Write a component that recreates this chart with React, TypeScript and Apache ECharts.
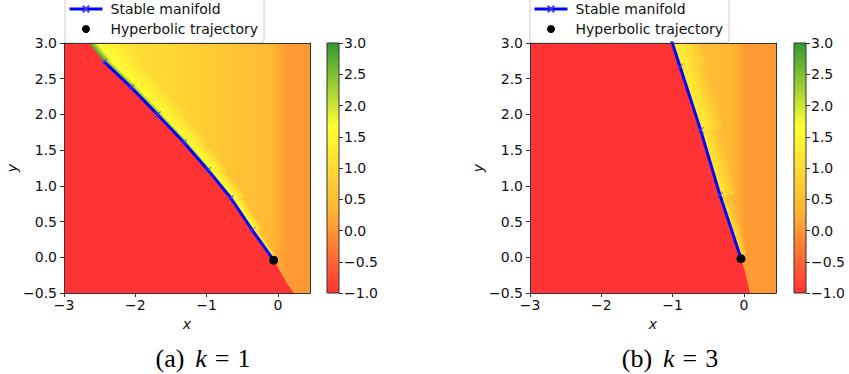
import React, { useEffect, useRef } from 'react';
import * as echarts from 'echarts';

// ---------- axes ----------
const xTickValues = [-3, -2, -1, 0];
const xMin = -3;
const xMax = 0.45;
const yMin = -0.5;
const yMax = 3;
const yStep = 0.5;
const cbMin = -1;
const cbMax = 3;
const cbStep = 0.5;

// colormap anchors (red -> orange -> yellow -> green, alpha 0.8 on white)
const cmapValues = [-1, 1 / 3, 5 / 3, 3];
const cmapColors = [
  [255, 51, 51],
  [255, 183, 51],
  [255, 255, 51],
  [51, 153, 51],
];

// ---------- panel (a) k = 1 ----------
const manifoldX1 = [-2.44, -2.06, -1.69, -1.32, -0.98, -0.66, -0.36, -0.06];
const manifoldY1 = [2.74, 2.38, 2.0, 1.61, 1.22, 0.83, 0.38, -0.04];
const hyperX1 = [-0.06];
const hyperY1 = [-0.04];
const ridgeX1 = [-2.65, -2.44, -2.06, -1.69, -1.32, -0.98, -0.66, -0.36, -0.06];
const ridgeY1 = [3.0, 2.74, 2.38, 2.0, 1.61, 1.22, 0.83, 0.38, -0.04];
const ridgePeak1 = [3.0, 3.0, 2.9, 2.7, 2.5, 2.3, 2.1, 1.8, 0.9];
const ridgeWidth1 = [0.55, 0.5, 0.45, 0.4, 0.34, 0.28, 0.22, 0.15, 0.05];
const tailX1 = [-0.02, 0.05, 0.13, 0.22];
const tailY1 = [-0.1, -0.23, -0.37, -0.5];
const fieldX1 = [-3, -2.4, -1.8, -1.2, -0.7, -0.3, -0.12, 0.0, 0.1, 0.45];
const fieldV1 = [1.5, 1.25, 1.0, 0.82, 0.6, 0.45, 0.38, 0.2, 0.06, 0.02];

// ---------- panel (b) k = 3 ----------
const manifoldX2 = [-1.19, -0.897, -0.607, -0.336, -0.04];
const manifoldY2 = [3.57, 2.67, 1.78, 0.87, -0.02];
const hyperX2 = [-0.04];
const hyperY2 = [-0.02];
const ridgeX2 = [-1.005, -0.897, -0.607, -0.336, -0.04];
const ridgeY2 = [3.0, 2.67, 1.78, 0.87, -0.02];
const ridgePeak2 = [1.3, 1.28, 1.2, 1.05, 0.75];
const ridgeWidth2 = [0.45, 0.42, 0.32, 0.22, 0.08];
const tailX2 = [0.02, 0.085];
const tailY2 = [-0.22, -0.5];
const fieldX2 = [-3, -0.9, -0.5, -0.2, -0.08, 0.03, 0.45];
const fieldV2 = [0.55, 0.52, 0.42, 0.36, 0.25, 0.05, 0.02];

const FONT = 'DejaVu Sans';
const INK = '#111';
const FRAME = '#333';

function cmap(v: number, a = 1): string {
  let i = 0;
  while (i < cmapValues.length - 2 && v > cmapValues[i + 1]) i++;
  const t = Math.max(0, Math.min(1, (v - cmapValues[i]) / (cmapValues[i + 1] - cmapValues[i])));
  const c0 = cmapColors[i];
  const c1 = cmapColors[i + 1];
  const c = c0.map((c, k) => Math.round(c + (c1[k] - c) * t));
  return `rgba(${c[0]},${c[1]},${c[2]},${a})`;
}

const minus = (s: string) => s.replace('-', '\u2212');

type Panel = {
  manifoldX: number[];
  manifoldY: number[];
  hyperX: number[];
  hyperY: number[];
  ridgeX: number[];
  ridgeY: number[];
  ridgePeak: number[];
  ridgeWidth: number[];
  tailX: number[];
  tailY: number[];
  fieldX: number[];
  fieldV: number[];
};

const panels: Panel[] = [
  {
    manifoldX: manifoldX1, manifoldY: manifoldY1, hyperX: hyperX1, hyperY: hyperY1,
    ridgeX: ridgeX1, ridgeY: ridgeY1, ridgePeak: ridgePeak1, ridgeWidth: ridgeWidth1,
    tailX: tailX1, tailY: tailY1, fieldX: fieldX1, fieldV: fieldV1,
  },
  {
    manifoldX: manifoldX2, manifoldY: manifoldY2, hyperX: hyperX2, hyperY: hyperY2,
    ridgeX: ridgeX2, ridgeY: ridgeY2, ridgePeak: ridgePeak2, ridgeWidth: ridgeWidth2,
    tailX: tailX2, tailY: tailY2, fieldX: fieldX2, fieldV: fieldV2,
  },
];

const layout = [
  { main: { left: 64, top: 43, width: 246, height: 250 }, cbar: { left: 327, top: 43, width: 12, height: 250 }, legendLeft: 65, caption: 203, tag: 'a', k: '1' },
  { main: { left: 530, top: 43, width: 246, height: 250 }, cbar: { left: 794, top: 43, width: 12, height: 250 }, legendLeft: 530, caption: 670, tag: 'b', k: '3' },
];

function buildOption() {
  const grid: any[] = [];
  const xAxis: any[] = [];
  const yAxis: any[] = [];
  const series: any[] = [];
  const legend: any[] = [];
  const graphic: any[] = [];

  const labelStyle = { fontFamily: FONT, fontSize: 14, color: INK };
  const lineOnly = {
    axisLine: { show: true, onZero: false, lineStyle: { color: FRAME, width: 1 } },
    axisTick: { show: false },
    axisLabel: { show: false },
    splitLine: { show: false },
    z: 10,
  };

  panels.forEach((p, pi) => {
    const L = layout[pi];
    const gMain = grid.length;
    grid.push({ ...L.main, containLabel: false });
    const gBar = grid.length;
    grid.push({ ...L.cbar, containLabel: false });

    const xMainIdx = xAxis.length;
    xAxis.push({
      type: 'value', gridIndex: gMain, min: xMin, max: xMax, position: 'bottom',
      axisLine: { show: true, onZero: false, lineStyle: { color: FRAME, width: 1 } },
      axisTick: { show: true, length: 4, customValues: xTickValues, lineStyle: { color: FRAME } },
      axisLabel: { ...labelStyle, margin: 5, customValues: xTickValues, formatter: (v: number) => minus(String(v)) },
      splitLine: { show: false },
      name: 'x', nameLocation: 'middle', nameGap: 22,
      nameTextStyle: { fontFamily: FONT, fontSize: 14, fontStyle: 'italic', color: INK },
      z: 10,
    });
    xAxis.push({ type: 'value', gridIndex: gMain, min: xMin, max: xMax, position: 'top', ...lineOnly });
    const xBarIdx = xAxis.length;
    xAxis.push({ type: 'value', gridIndex: gBar, min: 0, max: 1, show: false });

    const yMainIdx = yAxis.length;
    yAxis.push({
      type: 'value', gridIndex: gMain, min: yMin, max: yMax, interval: yStep, position: 'left',
      axisLine: { show: true, onZero: false, lineStyle: { color: FRAME, width: 1 } },
      axisTick: { show: true, length: 4, lineStyle: { color: FRAME } },
      axisLabel: { ...labelStyle, margin: 7, formatter: (v: number) => minus(v.toFixed(1)) },
      splitLine: { show: false },
      name: 'y', nameLocation: 'middle', nameGap: 45, nameRotate: 90,
      nameTextStyle: { fontFamily: FONT, fontSize: 14, fontStyle: 'italic', color: INK },
      z: 10,
    });
    yAxis.push({ type: 'value', gridIndex: gMain, min: yMin, max: yMax, position: 'right', ...lineOnly });
    const yBarIdx = yAxis.length;
    yAxis.push({
      type: 'value', gridIndex: gBar, min: cbMin, max: cbMax, interval: cbStep, position: 'right',
      axisLine: { show: false, onZero: false },
      axisTick: { show: true, length: 4, lineStyle: { color: FRAME } },
      axisLabel: { ...labelStyle, margin: 5, formatter: (v: number) => minus(v.toFixed(1)) },
      splitLine: { show: false },
      z: 10,
    });

    const axes = { xAxisIndex: xMainIdx, yAxisIndex: yMainIdx };

    // background field (value mostly varying along x)
    series.push({
      type: 'custom', ...axes, z: 1, clip: true, silent: true,
      data: [[xMin, yMin]],
      renderItem: (params: any, api: any) => {
        const tl = api.coord([xMin, yMax]);
        const br = api.coord([xMax, yMin]);
        const x0 = tl[0];
        const x1 = br[0];
        const stops = p.fieldX.map((x, i) => ({
          offset: Math.max(0, Math.min(1, (api.coord([x, yMin])[0] - x0) / (x1 - x0))),
          color: cmap(p.fieldV[i]),
        }));
        return {
          type: 'rect',
          shape: { x: x0, y: tl[1], width: x1 - x0, height: br[1] - tl[1] },
          style: { fill: new echarts.graphic.LinearGradient(0, 0, 1, 0, stops) },
        };
      },
    });

    // high-value ridge right of the manifold
    series.push({
      type: 'custom', ...axes, z: 2, clip: true, silent: true,
      data: p.ridgeX.slice(0, -1).map((x, i) => [x, p.ridgeY[i], i]),
      renderItem: (params: any, api: any) => {
        const i = api.value(2);
        const P = api.coord([p.ridgeX[i], p.ridgeY[i]]);
        const Q = api.coord([p.ridgeX[i + 1], p.ridgeY[i + 1]]);
        const P2 = api.coord([p.ridgeX[i] + p.ridgeWidth[i], p.ridgeY[i]]);
        const Q2 = api.coord([p.ridgeX[i + 1] + p.ridgeWidth[i + 1], p.ridgeY[i + 1]]);
        const sx = Q[0] - P[0];
        const sy = Q[1] - P[1];
        const len = Math.hypot(sx, sy) || 1;
        let nx = sy / len;
        let ny = -sx / len;
        if (nx < 0) { nx = -nx; ny = -ny; }
        const d = ((P2[0] - P[0]) + (Q2[0] - Q[0])) / 2 * nx;
        const mx = (P[0] + Q[0]) / 2;
        const my = (P[1] + Q[1]) / 2;
        const peak = (p.ridgePeak[i] + p.ridgePeak[i + 1]) / 2;
        const mid = Math.min(peak, 1.6);
        return {
          type: 'polygon',
          shape: { points: [P, Q, Q2, P2] },
          style: {
            fill: new echarts.graphic.LinearGradient(mx, my, mx + nx * d, my + ny * d, [
              { offset: 0, color: cmap(peak) },
              { offset: 0.22, color: cmap(mid) },
              { offset: 1, color: cmap(mid, 0) },
            ], true),
          },
        };
      },
    });

    // region at the minimum value (-1), left of the manifold
    series.push({
      type: 'custom', ...axes, z: 3, clip: true, silent: true,
      data: [[xMin, yMin]],
      renderItem: (params: any, api: any) => {
        const pts: number[][] = [api.coord([xMin, yMax])];
        p.ridgeX.forEach((x, i) => pts.push(api.coord([x, p.ridgeY[i]])));
        p.tailX.forEach((x, i) => pts.push(api.coord([x, p.tailY[i]])));
        pts.push(api.coord([xMin, yMin]));
        return { type: 'polygon', shape: { points: pts }, style: { fill: cmap(cbMin) } };
      },
    });

    series.push({
      type: 'line', name: 'Stable manifold', ...axes, z: 4, clip: true,
      data: p.manifoldX.map((x, i) => [x, p.manifoldY[i]]),
      lineStyle: { color: '#0000ff', width: 3 },
      symbol: 'path://M0 0L10 10M10 0L0 10',
      symbolSize: 6,
      showSymbol: true,
      itemStyle: { color: 'rgba(0,0,0,0)', borderColor: '#3a3aff', borderWidth: 1 },
    });

    series.push({
      type: 'scatter', name: 'Hyperbolic trajectory', ...axes, z: 5,
      data: p.hyperX.map((x, i) => [x, p.hyperY[i]]),
      symbol: 'circle', symbolSize: 9,
      itemStyle: { color: '#000', opacity: 1 },
    });

    // colorbar
    series.push({
      type: 'custom', xAxisIndex: xBarIdx, yAxisIndex: yBarIdx, z: 2, clip: false, silent: true,
      data: [[0, cbMin]],
      renderItem: (params: any, api: any) => {
        const tl = api.coord([0, cbMax]);
        const br = api.coord([1, cbMin]);
        const stops = cmapValues.map((v) => ({
          offset: (v - cbMin) / (cbMax - cbMin),
          color: cmap(v),
        }));
        return {
          type: 'rect',
          shape: { x: tl[0], y: tl[1], width: br[0] - tl[0], height: br[1] - tl[1] },
          style: {
            fill: new echarts.graphic.LinearGradient(0, 1, 0, 0, stops),
            stroke: FRAME, lineWidth: 1,
          },
        };
      },
    });

    legend.push({
      orient: 'vertical', left: L.legendLeft, top: -4,
      padding: [5, 6, 6, 3], itemGap: 4, itemWidth: 33, itemHeight: 8,
      backgroundColor: '#fff', borderColor: '#cccccc', borderWidth: 1, borderRadius: 3,
      lineStyle: { width: 3 },
      textStyle: { fontFamily: FONT, fontSize: 14, color: INK, lineHeight: 16, padding: [0, 0, 0, 3] },
      selectedMode: false,
      data: [{ name: 'Stable manifold' }, { name: 'Hyperbolic trajectory', icon: 'circle' }],
    });

    graphic.push({
      type: 'text', x: L.caption, y: 358,
      style: {
        text: `{n|(${L.tag})}{k|k}{e|=}{n|${L.k}}`,
        align: 'center', verticalAlign: 'middle',
        rich: {
          n: { fontFamily: 'Liberation Serif', fontSize: 26, fill: '#000' },
          k: { fontFamily: 'Liberation Serif', fontSize: 26, fontStyle: 'italic', fill: '#000', padding: [0, 0, 0, 11] },
          e: { fontFamily: 'Liberation Serif', fontSize: 26, fill: '#000', padding: [0, 8, 0, 8] },
        },
      },
    });
  });

  return {
    animation: false,
    backgroundColor: '#fff',
    textStyle: { fontFamily: FONT },
    grid, xAxis, yAxis, series, legend, graphic,
  };
}

export default function App() {
  const ref = useRef<HTMLDivElement>(null);
  useEffect(() => {
    if (!ref.current) return;
    const chart = echarts.init(ref.current, null, { renderer: 'svg' });
    chart.setOption(buildOption() as any);
    return () => chart.dispose();
  }, []);
  return (
    <div
      ref={ref}
      style={{ position: 'fixed', left: 0, top: 0, width: 849, height: 374, background: '#fff' }}
    />
  );
}
